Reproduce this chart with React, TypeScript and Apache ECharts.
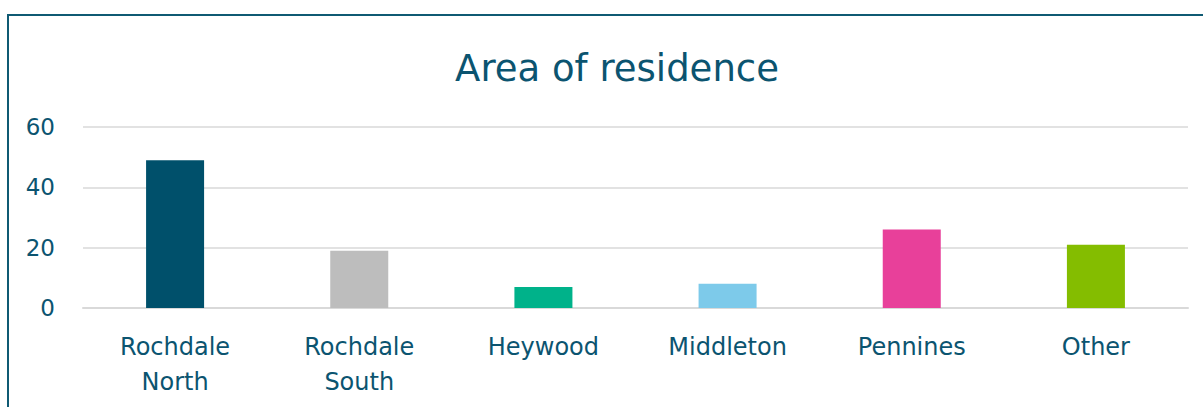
import React, { useEffect, useRef } from "react";
import * as echarts from "echarts";

const categories = ["Rochdale\nNorth", "Rochdale\nSouth", "Heywood", "Middleton", "Pennines", "Other"];
const values = [49, 19, 7, 8, 26, 21];
const barColors = ["#00506b", "#bdbdbd", "#00b28a", "#7dcaea", "#e8409a", "#84bd00"];
const yTicks = [0, 20, 40, 60];

const TEXT = "#0b5470";
const FONT = "'DejaVu Sans', 'Open Sans', sans-serif";

export default function App() {
  const ref = useRef<HTMLDivElement>(null);
  useEffect(() => {
    document.body.style.overflow = "hidden";
    const chart = echarts.init(ref.current!, null, { renderer: "svg" });
    chart.setOption({
      animation: false,
      title: {
        text: "Area of residence",
        left: 612,
        textAlign: "center",
        top: 45,
        textStyle: { color: TEXT, fontSize: 37, fontWeight: "normal", fontFamily: FONT },
      },
      grid: { left: 83, right: 15, top: 127, bottom: 99, containLabel: false },
      xAxis: {
        type: "category",
        data: categories,
        axisLine: { lineStyle: { color: "#d9d9d9", width: 2 } },
        axisTick: { show: false },
        axisLabel: { color: TEXT, fontSize: 24, fontFamily: FONT, margin: 21, lineHeight: 35, interval: 0 },
      },
      yAxis: {
        type: "value",
        min: yTicks[0],
        max: yTicks[yTicks.length - 1],
        interval: 20,
        axisLine: { show: false },
        axisTick: { show: false },
        axisLabel: { color: TEXT, fontSize: 23, fontFamily: FONT, margin: 28 },
        splitLine: { lineStyle: { color: "#d9d9d9", width: 1.5 } },
      },
      series: [
        {
          type: "bar",
          barWidth: "31.5%",
          data: values.map((v, i) => ({ value: v, itemStyle: { color: barColors[i] } })),
        },
      ],
    });
    return () => chart.dispose();
  }, []);
  return (
    <div style={{ position: "fixed", left: 0, top: 0, width: 1203, height: 407, overflow: "hidden", background: "#fff" }}>
      <div
        style={{
          position: "absolute",
          left: 7,
          top: 14,
          width: 1300,
          height: 500,
          border: "2px solid #0f5a73",
          boxSizing: "border-box",
        }}
      />
      <div ref={ref} style={{ position: "absolute", left: 0, top: 0, width: 1203, height: 407 }} />
    </div>
  );
}
